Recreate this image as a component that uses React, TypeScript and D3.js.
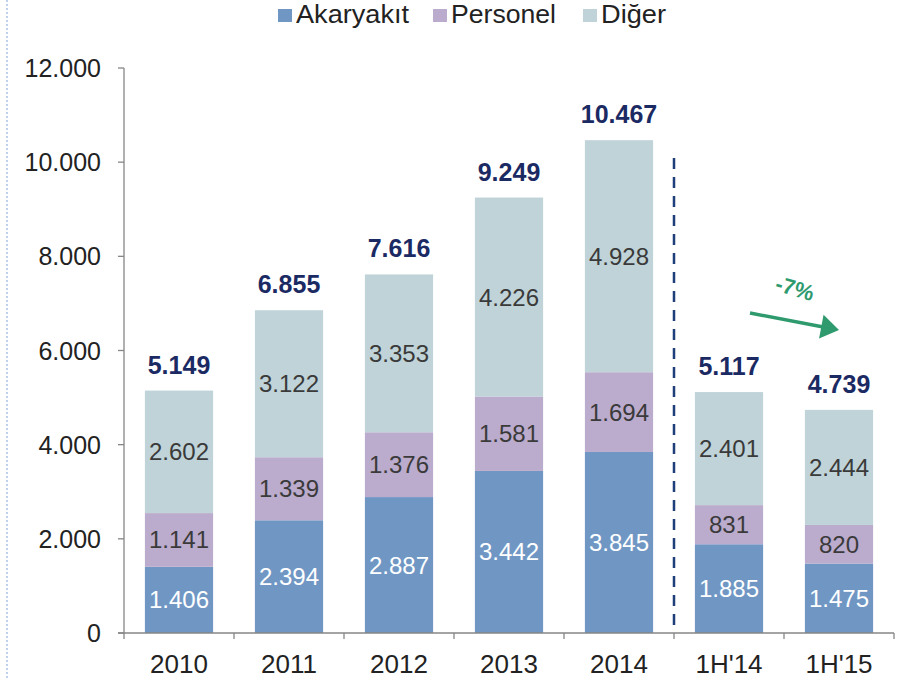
import React from "react";
import * as d3 from "d3";

const categories = ["2010", "2011", "2012", "2013", "2014", "1H'14", "1H'15"];
const akaryakit = [1406, 2394, 2887, 3442, 3845, 1885, 1475];
const personel = [1141, 1339, 1376, 1581, 1694, 831, 820];
const diger = [2602, 3122, 3353, 4226, 4928, 2401, 2444];
const totals = [5149, 6855, 7616, 9249, 10467, 5117, 4739];
const seriesNames = ["Akaryakıt", "Personel", "Diğer"];
const yTicks = [0, 2000, 4000, 6000, 8000, 10000, 12000];

const colors = ["#7097C4", "#BBABCD", "#BFD3D8"];
const labelColors = ["#FFFFFF", "#3A3A3A", "#3A3A3A"];

const fmt = (v: number) => d3.format(",")(v).replace(/,/g, ".");

export default function App() {
  const W = 898, H = 680;
  const x = d3.scaleBand<string>().domain(categories).range([124, 894]).paddingInner(0.38).paddingOuter(0.19);
  const xTick = d3.scaleBand<string>().domain(categories).range([124, 894]);
  const y = d3.scaleLinear().domain([0, 12000]).range([633, 68]);
  const rows = categories.map((c, i) => ({ c, akaryakit: akaryakit[i], personel: personel[i], diger: diger[i] }));
  const stack = d3.stack<any>().keys(["akaryakit", "personel", "diger"])(rows);
  const font = "'Liberation Sans', Arial, sans-serif";

  const legendX = [278, 433, 583];
  const legendW = [113, 105, 65];

  const dashX = xTick("1H'14")!;
  const s = [750, 313];
  const tip = [839, 330];
  const dx = tip[0] - s[0], dy = tip[1] - s[1];
  const len = Math.hypot(dx, dy);
  const ux = dx / len, uy = dy / len;
  const headL = 18, headW = 12;
  const base = [tip[0] - ux * headL, tip[1] - uy * headL];
  const head = `M${tip[0]},${tip[1]} L${base[0] - uy * headW},${base[1] + ux * headW} L${base[0] + uy * headW},${base[1] - ux * headW} Z`;

  return (
    <svg width={W} height={H} style={{ position: "absolute", left: 0, top: 0, fontFamily: font }}>
      <line x1={7} x2={7} y1={0} y2={H} stroke="#A9C4E6" strokeWidth={1.5} strokeDasharray="2,2" />
      {/* legend */}
      {seriesNames.map((n, i) => (
        <g key={n}>
          <rect x={legendX[i]} y={9} width={14} height={13} fill={colors[i]} />
          <text x={legendX[i] + 18} y={23} fontSize={25} fill="#222" textLength={legendW[i]} lengthAdjust="spacingAndGlyphs">{n}</text>
        </g>
      ))}
      {/* y axis */}
      <line x1={124} x2={124} y1={y(12000)} y2={y(0)} stroke="#868686" strokeWidth={1.3} />
      {yTicks.map((t) => (
        <g key={t}>
          <line x1={118} x2={124} y1={y(t)} y2={y(t)} stroke="#868686" strokeWidth={1.3} />
          <text x={101} y={y(t) + 9} textAnchor="end" fontSize={25} fill="#222">{fmt(t)}</text>
        </g>
      ))}
      {/* bars */}
      {stack.map((sr, si) => (
        <g key={si}>
          {sr.map((d, i) => {
            const x0 = x(categories[i])!;
            const y0 = y(d[1]), y1 = y(d[0]);
            return (
              <g key={i}>
                <rect x={x0} y={y0} width={x.bandwidth()} height={y1 - y0} fill={colors[si]} />
                <text x={x0 + x.bandwidth() / 2} y={(y0 + y1) / 2 + 8.5} textAnchor="middle" fontSize={24} fill={labelColors[si]}>
                  {fmt(d[1] - d[0])}
                </text>
              </g>
            );
          })}
        </g>
      ))}
      {/* totals */}
      {categories.map((c, i) => (
        <text key={c} x={x(c)! + x.bandwidth() / 2} y={y(totals[i]) - 17} textAnchor="middle" fontSize={25} fontWeight="bold" fill="#1B2A63">
          {fmt(totals[i])}
        </text>
      ))}
      {/* x axis */}
      <line x1={118} x2={894} y1={y(0)} y2={y(0)} stroke="#868686" strokeWidth={1.3} />
      {categories.map((c) => (
        <line key={c} x1={xTick(c)!} x2={xTick(c)!} y1={y(0)} y2={y(0) + 6} stroke="#868686" strokeWidth={1.3} />
      ))}
      <line x1={894} x2={894} y1={y(0)} y2={y(0) + 6} stroke="#868686" strokeWidth={1.3} />
      {categories.map((c) => (
        <text key={c} x={xTick(c)! + xTick.bandwidth() / 2} y={673} textAnchor="middle" fontSize={26} fill="#222">{c}</text>
      ))}
      {/* divider */}
      <line x1={dashX} x2={dashX} y1={158} y2={y(0)} stroke="#1F3F7A" strokeWidth={2.5} strokeDasharray="11,8" />
      {/* arrow */}
      <line x1={s[0]} y1={s[1]} x2={base[0] + ux * 2} y2={base[1] + uy * 2} stroke="#2E9A6E" strokeWidth={3.5} />
      <path d={head} fill="#2E9A6E" />
      <text x={795} y={296} textAnchor="middle" fontSize={22} fontWeight="bold" fill="#2E9A6E" transform="rotate(16 795 288)">-7%</text>
    </svg>
  );
}
